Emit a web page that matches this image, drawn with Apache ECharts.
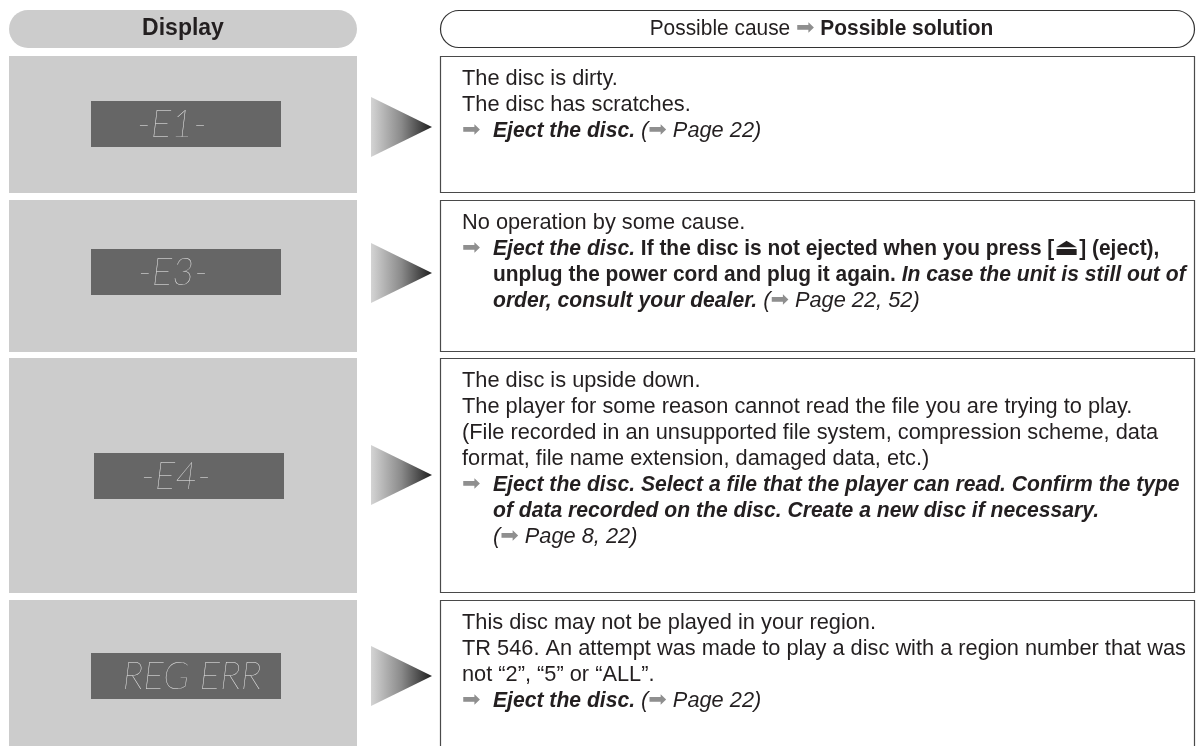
<!DOCTYPE html>
<html><head><meta charset="utf-8"><title>Display messages</title>
<script src="https://cdn.jsdelivr.net/npm/echarts@6.0.0/dist/echarts.min.js"></script>
<style>html,body{margin:0;padding:0;background:#fff;}#chart{width:1196px;height:746px;}</style>
</head><body><div id="chart"></div>
<script>
// ---------- content ----------
const headerDisplay = 'Display';
const headerCause = 'Possible cause';
const headerSolution = 'Possible solution';
const displayCodes = ['-E1-', '-E3-', '-E4-', 'REG ERR'];
const causes = [
  ['The disc is dirty.', 'The disc has scratches.'],
  ['No operation by some cause.'],
  ['The disc is upside down.',
   'The player for some reason cannot read the file you are trying to play.',
   '(File recorded in an unsupported file system, compression scheme, data',
   'format, file name extension, damaged data, etc.)'],
  ['This disc may not be played in your region.',
   'TR 546. An attempt was made to play a disc with a region number that was',
   'not \u201c2\u201d, \u201c5\u201d or \u201cALL\u201d.']
];
const solutions = [
  [[['bi', 'Eject the disc.'], ['i', ' ('], ['ar', '\u27a1'], ['i', ' Page 22)']]],
  [[['bi', 'Eject the disc.'], ['b', ' If the disc is not ejected when you press ['], ['ej', '\u23cf'], ['b', '] (eject),']],
   [['b', 'unplug the power cord and plug it again. '], ['bi', 'In case the unit is still out of']],
   [['bi', 'order, consult your dealer.'], ['i', ' ('], ['ar', '\u27a1'], ['i', ' Page 22, 52)']]],
  [[['bi', 'Eject the disc. Select a file that the player can read. Confirm the type']],
   [['bi', 'of data recorded on the disc. Create a new disc if necessary.']],
   [['i', '('], ['ar', '\u27a1'], ['i', ' Page 8, 22)']]],
  [[['bi', 'Eject the disc.'], ['i', ' ('], ['ar', '\u27a1'], ['i', ' Page 22)']]]
];

// ---------- layout ----------
const L = {
  panelX: 9, panelW: 348,
  boxX: 440, boxW: 755,
  headY: 10, headH: 38,
  rowTop: [56, 200, 358, 600],
  rowBottom: [193, 352, 593, 790],
  lcdX: [91, 91, 94, 91], lcdCY: [124, 272, 476, 676], lcdW: 190, lcdH: 46,
  lcdTextCX: [81, 82, 82, 101],
  triX: 371, triW: 61, triHalf: 30, triCY: [127, 273, 475, 676],
  textX: 462, indent: 31, firstLine: 23, lineH: 26
};

const FONT = "'Liberation Sans', Arial, Helvetica, sans-serif";
const SYM = "'DejaVu Sans', sans-serif";
const INK = '#231f20';
const styles = {
  r:  {fontStyle: 'normal', fontWeight: 'normal', fontSize: 22, fontFamily: FONT, fill: INK, sx: 0.99},
  i:  {fontStyle: 'italic', fontWeight: 'normal', fontSize: 22, fontFamily: FONT, fill: INK, sx: 0.99},
  b:  {fontStyle: 'normal', fontWeight: 'bold', fontSize: 22, fontFamily: FONT, fill: INK, sx: 0.95},
  bi: {fontStyle: 'italic', fontWeight: 'bold', fontSize: 22, fontFamily: FONT, fill: INK, sx: 0.96},
  ar: {fontStyle: 'normal', fontWeight: 'normal', fontSize: 21, fontFamily: SYM, fill: '#8f8f8f', sx: 1.05},
  ej: {fontStyle: 'normal', fontWeight: 'normal', fontSize: 24, fontFamily: SYM, fill: INK, sx: 1.1},
  hr: {fontStyle: 'normal', fontWeight: 'normal', fontSize: 22, fontFamily: FONT, fill: INK, sx: 0.95},
  hb: {fontStyle: 'normal', fontWeight: 'bold', fontSize: 22, fontFamily: FONT, fill: INK, sx: 0.95},
  har:{fontStyle: 'normal', fontWeight: 'normal', fontSize: 21, fontFamily: SYM, fill: '#8f8f8f', sx: 1.05}
};

const mctx = document.createElement('canvas').getContext('2d');
function cssFont(st) { return st.fontStyle + ' ' + st.fontWeight + ' ' + st.fontSize + 'px ' + st.fontFamily; }
function tokW(tok) { const st = styles[tok[0]]; mctx.font = cssFont(st); return mctx.measureText(tok[1]).width * st.sx; }

const els = [];
function addLine(tokens, x, y) {
  tokens.forEach(tok => {
    const st = styles[tok[0]];
    els.push({
      type: 'text', x: x, y: y, scaleX: st.sx, silent: true,
      style: {text: tok[1], x: 0, y: 0, font: cssFont(st), fill: st.fill,
              textAlign: 'left', textVerticalAlign: 'middle'}
    });
    x += tokW(tok);
  });
}

// headers
els.push({type: 'rect', silent: true,
  shape: {x: L.panelX, y: L.headY, width: L.panelW, height: L.headH, r: L.headH / 2},
  style: {fill: '#cccccc'}});
els.push({type: 'text', silent: true, x: L.panelX + L.panelW / 2, y: L.headY + L.headH / 2,
  style: {text: headerDisplay, font: 'normal bold 23px ' + FONT, fill: INK,
          textAlign: 'center', textVerticalAlign: 'middle'}});
els.push({type: 'rect', silent: true,
  shape: {x: L.boxX + 0.5, y: L.headY + 0.5, width: L.boxW - 1, height: L.headH - 1, r: (L.headH - 1) / 2},
  style: {fill: 'none', stroke: '#333333', lineWidth: 1.2}});
const headTokens = [['hr', headerCause + ' '], ['har', '\u27a1'], ['hb', ' ' + headerSolution]];
const headTotal = headTokens.reduce((s, t) => s + tokW(t), 0);
addLine(headTokens, L.boxX + L.boxW / 2 - headTotal / 2 + 4, L.headY + L.headH / 2);

// rows
displayCodes.forEach((code, i) => {
  const top = L.rowTop[i], bot = L.rowBottom[i];
  els.push({type: 'rect', silent: true,
    shape: {x: L.panelX, y: top, width: L.panelW, height: bot - top},
    style: {fill: '#cccccc'}});
  els.push({type: 'rect', silent: true,
    shape: {x: L.lcdX[i], y: L.lcdCY[i] - L.lcdH / 2, width: L.lcdW, height: L.lcdH},
    style: {fill: '#666666'}});
  els.push({type: 'text', silent: true, x: L.lcdX[i] + L.lcdTextCX[i], y: L.lcdCY[i] + 1,
    style: {text: code, font: "italic 200 38px Lato, 'Noto Sans', sans-serif", fill: '#ececec',
            textAlign: 'center', textVerticalAlign: 'middle'}});
  const cy = L.triCY[i];
  els.push({type: 'polygon', silent: true,
    shape: {points: [[L.triX, cy - L.triHalf], [L.triX + L.triW, cy], [L.triX, cy + L.triHalf]]},
    style: {fill: new echarts.graphic.LinearGradient(0, 0, 1, 0, [
      {offset: 0, color: '#d4d4d4'}, {offset: 0.5, color: '#8a8a8a'}, {offset: 1, color: '#1e1e1e'}])}});
  els.push({type: 'rect', silent: true,
    shape: {x: L.boxX + 0.5, y: top + 0.5, width: L.boxW - 1, height: bot - top - 1},
    style: {fill: 'none', stroke: '#4a4a4a', lineWidth: 1.2}});
  let y = top + L.firstLine;
  causes[i].forEach(line => { addLine([['r', line]], L.textX, y); y += L.lineH; });
  solutions[i].forEach((line, k) => {
    if (k === 0) addLine([['ar', '\u27a1']], L.textX, y);
    addLine(line, L.textX + L.indent, y);
    y += L.lineH;
  });
});

const chart = echarts.init(document.getElementById('chart'));
chart.setOption({animation: false, graphic: {elements: els}});
</script></body></html>
